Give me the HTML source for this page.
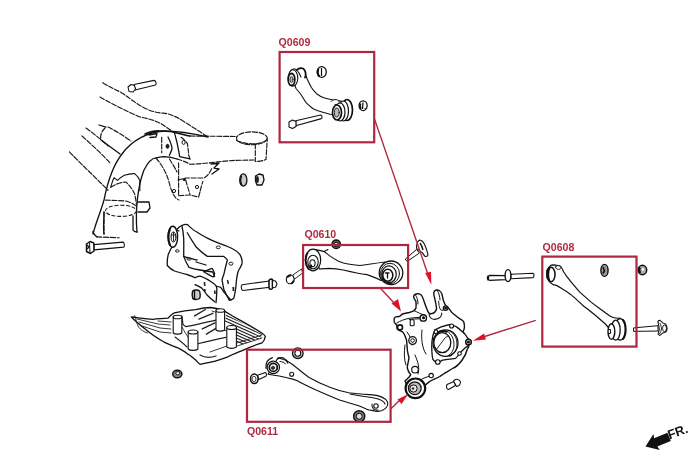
<!DOCTYPE html>
<html><head><meta charset="utf-8">
<style>
html,body{margin:0;padding:0;background:#fff;width:700px;height:467px;overflow:hidden}
svg{position:absolute;left:0;top:0;filter:blur(0.35px)}
.lbl{font-family:"Liberation Sans",sans-serif;font-weight:bold;font-size:10.6px;fill:#b02a40}
</style></head><body>
<svg width="700" height="467" viewBox="0 0 700 467">
<rect width="700" height="467" fill="#fff"/>
<!-- SUBFRAME -->
<g fill="none" stroke="#1a1a1a" stroke-width="1.15" stroke-dasharray="5 1.7" stroke-linecap="round">
<path d="M102.7,82.7 C110,87 115,89.5 120.7,92.2 C127,96 132,100.5 137.9,104.2 C143,107.5 149,110.5 155,111.9 C159,113 163,113 167,113.6 C172,115 176.5,117 180.8,119.6 C185.5,122.5 190,125.5 194.5,128.2 C198.5,131 202.5,133.5 206.5,135.9"/>
<path d="M100,97 C112,104 128,112 140,117 C150,119 158,121 166,127 L172,131"/>
<path d="M108,127 C116,131 124,136 131,141"/>
<path d="M105,128 C101,132 100,136 101,140"/>
<path d="M86,128 C94,134 102,140 108,146"/>
<path d="M82,136 C92,145 102,154 110,163"/>
<path d="M69.4,151.8 C80,163 95,177 108,190.3"/>
<path d="M190,136 L237,136.5"/>
<path d="M161.7,137.3 L161.7,152.7"/>
<path d="M177,159 C184,161 188,163 190,164.3 C205,164 220,161 235,160.4 L254,160"/>
<path d="M169.4,159 C172,163 175,168 177,172"/>
<path d="M178,180 L186,178 L204,178 C208,176 210,172 212,168"/>
<path d="M181,137.3 C185,140 187,143 187.4,143.7 C188,148 188.5,152 188.7,155.3 L190,159"/>
<path d="M185.7,180 C187,185 188.5,190 190,194.3" stroke-width="1.1"/>
<circle cx="184.3" cy="179.5" r="1" fill="#111"/>
<ellipse cx="251.9" cy="138.3" rx="15.4" ry="6.4"/>
<path d="M236.5,140.4 C242,143 249,144 255.3,143.8 C260,143.5 264,142 267,140"/>
<path d="M255.3,143.8 L255.3,161.5 C259,161.5 263,160.8 266,159.5 L267.3,138.7"/>
<path d="M156,158 C163,166 168,176 170,186 C172,192 174,198 179,200"/>
<path d="M178.6,195.7 L190,195 L198.6,197.1 C199.5,194 200,192 200,191.4 C201,188 202,184 202.9,181.4"/>
<path d="M178.6,162.9 C178.6,168 178.6,174 178.6,178.6 C178.6,184 178.6,190 178.6,195.7"/>
<path d="M110.7,187.3 C116,184 121,182 126.1,182.1 C130,186 133,190 134.7,194.1 C135.5,197.5 136,201 136.4,204.4"/>
<path d="M105.5,200.1 C112,200.3 119,200.6 126.1,201 C130,202 133.5,204 136.4,206.1"/>
<path d="M97,236.9 C104,237.2 112,237.5 119.2,237.8"/>
<path d="M104,212 C104,220 104,228 104,234"/>
</g>
<g fill="none" stroke="#111" stroke-width="1.3" stroke-linecap="round" stroke-linejoin="round">
<path d="M93,234 C96,222 100,214 104,200 C108,180 114,164 122,154 C132,140 148,132 164,131 C180,131 195,134 208,137"/>
<path d="M137,232 C135,210 138,185 144,170 C148,162 152,158 156,157.8 C160,157 162,156.6 164.3,156.6 C170,157 174,158 177,159"/>
<path d="M99,125 L106,127"/>
<path d="M110.7,187.3 C112,183 113,179 114.1,177.8 C115.5,178.5 116.5,179.5 117.5,180.4 C119.5,178.5 122,176.5 124.4,175.3 C128,174 131.5,173.5 134.7,173.6 C137.5,176 139,178 139.8,180.4 C139.8,184 139.8,187.5 139.8,190.7" stroke-width="1.1"/>
<path d="M92.7,231.8 C94,234 95.5,236 97,236.9"/>
<path d="M101,140 L120,154"/>
<path d="M145,134 C150,132 154,131 157.9,130.9 C162,131 166,131 170.7,131.5 C178,133 184,135 190,136" stroke-width="1.6"/>
<path d="M168,137 C170,141 172,145 172,149 C171,152 170,154 169.4,155.3"/>
<path d="M174.6,133.4 C175.5,136 176,139 177,142.4 C178,148 179,152 179.7,156.6 C183,157.5 187,158 190,159"/>
<path d="M149,135 L157,133.5 L156,137 L150,137.5"/>
<path d="M211,164 L219,163 L214,168 L219,169 L212,174"/>


<path d="M138,202 L149,202 L150,208 L147,212 L138,212"/>
<path d="M133,216 L133,230 C134,232 136,232 137,232"/>
<path d="M104,212 C104,222 103,228 104,234"/>
</g>
<g fill="none" stroke="#1a1a1a" stroke-width="1.1" stroke-dasharray="4 1.7">
<ellipse cx="121" cy="210.8" rx="15.5" ry="5.6"/>
</g>
<g fill="none" stroke="#111" stroke-width="1">
<ellipse cx="167.5" cy="146.3" rx="1.4" ry="2" fill="#222"/>
<ellipse cx="183.6" cy="142.4" rx="1.6" ry="2"/>
<circle cx="174" cy="191" r="1.6"/>
<circle cx="197" cy="187" r="1.6"/>
</g>

<!-- KNUCKLE SUPPORT BRACKET -->
<g fill="none" stroke="#111" stroke-width="1.3" stroke-linecap="round" stroke-linejoin="round">
<path d="M177.3,229 C179,227 180.5,226 181.9,225.5 C184,224.5 186,224.3 187.3,224.6 C190,227 193,230 196.4,231.8 C200,234 204,236.5 207.4,238.2 C212,240.5 216,242 220,243.7 C225,245.5 229,247 232.9,249 C236,250.5 238.5,252.5 240,254.6 C242,258 242.5,261 242,263.7 C241,266.5 239.5,269 238.3,271 C237.3,274 236.8,277 236.5,280 C236.2,283 236,286 235.6,289.2 C235,292.5 234.5,295.5 233.8,298.3 C232.5,299.5 231,300 229.2,300"/>
<path d="M172.7,245.5 C171,248.5 169.5,251.5 168.2,254.6 C167.4,258 167.1,262 167.3,265.5 C169.5,268 172,270 174.6,271 C179,272.5 183,273.5 187.3,274.6 C190.5,276 193,276.5 195,277.8 C196.5,276.8 198.5,276 200.1,276.1 C203,277 205.5,278.3 207.8,279.6 C209.8,280.8 211.5,282 213,283 C214.5,284 215.7,285.2 216.4,286.4 C216.8,288 216.9,289.5 216.8,290.7 C216.7,295 216.4,299 216,302.7"/>
<path d="M181.9,225.5 C182.8,230 183.4,234 183.7,238.2 C183.8,244 183.8,250 183.7,256.4 C185,260 187,264 189,267.4 C192.5,268.5 196,269.5 200,270 C204,270.8 208.5,271.5 212.8,272 C213.5,273.5 214.2,275 214.6,276.5"/>
<path d="M187.3,232.8 C190,237.5 193,242.5 196.4,247.3 C199.5,250.5 203,253.5 207.4,256.4 C212.5,256.4 218,256.4 223.8,256.4 C225.3,257.5 226.5,258.5 227.4,260 C226,265 224.8,270 223.8,274.6 C223,276.5 222.4,278.3 222,280 C222.6,283 223.2,286 223.8,289.2 C225.5,293 227.3,296.5 229.2,300"/>
<path d="M203.6,271.8 C206.5,270.5 209.5,269 212.1,268.4 C213.3,270 214.2,272 214.7,273.6 C214.3,275 213.7,276.2 213,277 C210,275.5 206.8,273.5 203.6,271.8 Z" stroke-width="1.2"/>

<path d="M196,262 L206,265"/>
<path d="M183.7,256.4 C188,258 193,259 197,260"/>
<path d="M216.4,286.4 C218,286.6 219.5,286.9 220.7,287.3 C222,289 223,290.7 224.1,292.4 C226.5,295 228.8,297.7 231,300.1"/>
<path d="M195,284.7 C197.5,285.6 199.8,286.8 201.8,288.1 C203.8,290.4 205.5,292.7 207,295 C209.5,297.5 212,299.8 214.7,301.8"/>
<path d="M179,231 C176,229 174,229 172,231"/>
</g>
<g fill="#fff" stroke="#111" stroke-linecap="round">
<ellipse cx="172.8" cy="236.8" rx="4.8" ry="10.5" stroke-width="1.4"/>
<path d="M170,229 C168,233 168,241 170,245" fill="none" stroke-width="2"/>
<ellipse cx="173.5" cy="237" rx="2.4" ry="5" stroke-width="1"/>
<path d="M171.5,235 L175.5,235 M173.5,232.5 L173.5,241" stroke-width="0.9" fill="none"/>
</g>
<g fill="none" stroke="#222" stroke-width="1">
<ellipse cx="218.3" cy="247.3" rx="2" ry="1.4"/>
<ellipse cx="231" cy="263.7" rx="2" ry="1.5"/>
<ellipse cx="177.3" cy="251" rx="1.8" ry="1.2"/>
<ellipse cx="189" cy="259" rx="2.2" ry="1.1"/>
<path d="M227.5,280 L228.4,284" stroke-width="1.5"/>
<path d="M233.3,287 L233.5,291" stroke-width="1.8"/>
<path d="M204.4,282 L204.8,286" stroke-width="1.6"/>
<path d="M204.5,289 L205.2,291.5" stroke-width="1.6"/>
<path d="M214.7,290.5 L215,294" stroke-width="1.6"/>
</g>
<!-- SKID PLATE -->
<g fill="none" stroke="#111" stroke-width="1.3" stroke-linejoin="round" stroke-linecap="round">
<path d="M131.4,317 C140,318 146,319 152.9,319.3 C158,319 163,318.5 167.9,318.2 C170,316 172,314 174.3,312.9 C182,311 190,310 195.7,309.6 C200,308.5 206,307.5 210.7,307.5 C216,308 220,309 223.6,310.7 C228,313 232,316 236.4,318.2 C245,323 254,328 262.1,333.2 C264,334.5 265,335.5 265.3,336.4 C265,339 264,341 262.1,342.9 C256,345 250,347 245,349.3 C239,352 233,354 227.9,356.8 C222,359 216,361 210.7,362.1 C206,363 203,364 200,364.3 C198,363 197,361.5 195.7,360 C192,357 190,355 187.1,353.6 C184,351 181,349.5 178.6,348.2 C173,346 168,344 163.6,341.8 C157,338 151,334 146.4,330 C140,325 135,321 131.4,317 Z"/>
</g>
<defs><clipPath id="ribR"><polygon points="226,314 262,334 261,338.5 237,346 236,328 225,322"/></clipPath>
<clipPath id="ribL"><polygon points="136,318 168,320 172,314 172,334 150,330 140,324"/></clipPath></defs>
<g fill="none" stroke="#222" stroke-width="1.1" clip-path="url(#ribR)">
<line x1="222" y1="310.5" x2="266" y2="330.3"/>
<line x1="222" y1="313.5" x2="266" y2="333.3"/>
<line x1="222" y1="316.5" x2="266" y2="336.3"/>
<line x1="222" y1="319.5" x2="266" y2="339.3"/>
<line x1="222" y1="322.5" x2="266" y2="342.3"/>
<line x1="222" y1="325.5" x2="266" y2="345.3"/>
<line x1="222" y1="328.5" x2="266" y2="348.3"/>
<line x1="222" y1="331.5" x2="266" y2="351.3"/>
<line x1="222" y1="334.5" x2="266" y2="354.3"/>
</g>
<g fill="none" stroke="#222" stroke-width="0.9" stroke-linecap="round">
<path d="M134.7,315.7 C136,320 137,324 138.5,327 C141,330 144,332 147.5,333"/>
<path d="M137,319 L158,324 L170,325"/>
<path d="M139,322 L160,328 L171,329"/>
<path d="M142,326 L160,332 L171,333"/>
<path d="M158,321 L171,322"/>
<path d="M212,311 C216,312 218,313 220,316"/>
<path d="M181.8,316 C182.5,320 182.9,323 182.9,324.5 C184,325.5 185,326.2 186.1,326.7 C196,324.5 206,322.5 216.1,320.2" stroke-width="1.2"/>
<path d="M197.9,343.8 C207,341.5 216,339.5 225.7,337.4" stroke-width="1.1"/>
<path d="M194.6,315.9 L205.4,309.5" stroke-width="1.4"/>
<path d="M198.9,319.1 L212.9,313.3" stroke-width="1.4"/>
<path d="M202.2,328.8 L215,322.9" stroke-width="1.4"/>
<path d="M206.4,334.2 L217.2,327.7" stroke-width="1.4"/>
<path d="M175,337 C179,340 183,343 187,347" stroke-width="1.1"/>
<path d="M182,327 C184,331 186,334 188,337"/>
<path d="M200,355 C205,358 210,358 216,356" stroke-width="1.3"/>
<path d="M210,352 L227,346"/>
<path d="M237,346 L262,338"/>
<path d="M237,343 L262,335"/>
<path d="M224,330 L227,331"/>
</g>

<g fill="#fff" stroke="#111" stroke-width="1.1">
<path d="M173.2,317 L173.2,333 C175,334.5 180,334.5 181.8,333 L181.8,317 Z"/>
<ellipse cx="177.5" cy="317" rx="4.3" ry="1.8"/>
<path d="M216,310.5 L216,330 C218,331.5 222.5,331.5 224.6,330 L224.6,310.5 Z"/>
<ellipse cx="220.3" cy="310.5" rx="4.3" ry="1.8"/>
<path d="M188.2,332 L188.2,349 C190,350.8 196,350.8 197.9,349 L197.9,332 Z"/>
<ellipse cx="193" cy="332" rx="4.8" ry="2"/>
<path d="M226.8,327.5 L226.8,347 C229,348.8 234,348.8 236.4,347 L236.4,327.5 Z"/>
<ellipse cx="231.6" cy="327.5" rx="4.8" ry="2"/>
</g>

<!-- BOLTS & NUTS -->
<g fill="#fff" stroke="#111" stroke-width="1.1" stroke-linejoin="round">
<!-- bolt top-left -->
<path d="M134,84.5 L154,80.4 C156.2,80.4 156.6,84.4 155.6,85 L135,90 Z"/>
<path d="M128,87 L131,84.5 L134.5,85.5 L135.5,89 L133,92 L129,91.5 Z"/>
<!-- bolt bottom-left -->
<path d="M93.9,244.6 L122.9,242.1 C124.5,242.3 124.8,246.8 123.6,247.1 L93.9,249.9 Z"/>
<path d="M86.5,244 L90,241.5 L93.8,243 L94,251 L90.5,253.5 L86.5,251.5 Z" stroke-width="1.5"/><path d="M89.5,242.5 L90,253" fill="none" stroke-width="1"/><path d="M87,245 L89,247 L87,249" fill="none" stroke-width="1.2"/>
<!-- nuts near frame -->
<ellipse cx="243.3" cy="180" rx="3.6" ry="6.2" fill="#ccc" stroke-width="1.3"/><path d="M241.5,176 C240.5,179 240.5,183 242,185" stroke="#111" stroke-width="1.4" fill="none"/>
<path d="M255.5,176 L259,174 L263,175 L264,180 L262,185 L257,185 L255.5,181 Z" fill="#eee" stroke-width="1.3"/><ellipse cx="257.3" cy="179.5" rx="1.6" ry="3.6" fill="#222" stroke="none"/>
<!-- support bolt -->
<path d="M242.2,284.7 L269.5,281 L270,287.2 L243,290.5 C241,290 240.8,285.5 242.2,284.7 Z"/>
<path d="M269,280.5 C269.5,279 271,278.8 272.5,279.5 L272.5,288.5 C271,289.8 269.5,289.5 269,288 Z" stroke-width="1.6"/><path d="M272.5,280.5 L275.5,281 L277,284 L275.5,287.3 L272.5,287.5 Z" stroke-width="1.1"/>
<path d="M192.5,291.5 C193.5,290 197,289.5 199,290.5 C200.5,292 200.5,297 199.5,298.5 C197.5,299.8 194,299.8 192.8,298.5 C192,296 192,293.5 192.5,291.5 Z" fill="#ccc" stroke-width="1.4"/><path d="M194.5,291 L194.5,299" fill="none" stroke-width="1.4"/>
<ellipse cx="177.3" cy="374" rx="4.6" ry="3.8" fill="#888" stroke-width="1.4"/><ellipse cx="177.8" cy="373.2" rx="2" ry="1.6" fill="#eee" stroke-width="0.9"/>
<!-- Q0610 nut -->
<circle cx="336.2" cy="244.3" r="4.3" fill="#555" stroke-width="1.3"/><circle cx="336.2" cy="244.5" r="2.2" fill="#ddd" stroke-width="1"/>
<!-- Q0610 left bolt -->
<path d="M292.9,274.9 L301.6,268.9 L302.5,273.1 L294.1,279.4 Z" stroke-width="0.9"/>
<ellipse cx="290.2" cy="279.4" rx="3.9" ry="4.4" stroke-width="1.1"/><path d="M287,277.5 C288,276 289.5,275.3 291,275.3" fill="none" stroke-width="2"/><path d="M293.8,280.5 C293.2,282 292.2,283.2 291,283.6" fill="none" stroke-width="2"/>
<!-- Q0610 stud upper right -->
<path d="M405.3,259.1 L416.5,249.5 L419.5,253 L407,261.5 Z" stroke-width="1"/>
<path d="M417.7,242 C418.5,240.5 420,240 420.7,240.3 C422.5,241 423.5,242.5 424.2,243.8 C425.5,246.5 426.5,249 427.1,251.5 C427.8,253 428,254.5 427.7,255.6 C426.8,256.5 425.5,256.5 424.8,256.2 C423.8,255 423,253.5 422.4,252.7 C421,251.8 420,251 418.9,250.3 C417.5,249.5 416.8,248.5 416.5,248 C416.5,246 417,243.5 417.7,242 Z" stroke-width="1.1"/><path d="M420,243 C421.5,245 422.5,248 423,250" fill="none" stroke-width="1.4"/>
<!-- Q0608 left bolt -->
<path d="M489.5,275.3 L505.6,275.6 L505.6,279.6 L489.5,280.4 C487.5,280 487.5,275.8 489.5,275.3 Z" stroke-width="1.2"/>
<path d="M488.5,276 C487.8,277 487.8,279 488.5,280" fill="none" stroke-width="2.2"/>
<path d="M510.8,274.3 L533,273.3 C534.3,273.6 534.3,277.2 533,277.6 L510.8,278.8 Z"/>
<ellipse cx="508" cy="275.6" rx="2.9" ry="6" stroke-width="1.4"/>
<!-- nuts Q0608 -->
<ellipse cx="604.5" cy="270.4" rx="3.6" ry="6" fill="#999" stroke-width="1.4"/><path d="M603,267 L604.5,271 L602.8,273.5" fill="none" stroke-width="1.6"/>
<ellipse cx="642.4" cy="270" rx="4.3" ry="4.7" fill="#aaa" stroke-width="1.5"/><path d="M640,267.5 C639.3,269 639.3,271.5 640.3,273" fill="none" stroke-width="1.8"/><circle cx="643" cy="269.5" r="1.3" fill="#fff" stroke="none"/>
<!-- Q0608 right bolt -->
<path d="M633.6,327.9 L658,325.7 L658,331 L633.6,331.4 Z" stroke-width="1"/>
<path d="M657.9,321.4 C658.5,320.6 659.3,320.3 660,320.4 C661,321 662,322 662.9,322.9 C663.8,323.5 664.8,323.9 665.7,324.3 C666.6,325.5 667.1,327 667.1,328.6 C667,330 666.5,331.3 665.7,332.1 C664.8,332.4 663.8,332.6 662.9,332.9 C662,333.8 661,334.8 660,335.4 C659.2,335.2 658.6,334.7 658.2,334 C658.4,332.5 658.9,330.8 659.3,329.3 C659,326.5 658.4,323.8 657.9,321.4 Z" stroke-width="1.1"/>
<path d="M660,323 C661,325.5 661.5,327.5 661.5,329 C661,331 660.5,332.5 659.5,334" fill="none" stroke-width="0.9"/>
<ellipse cx="664.5" cy="328.3" rx="2" ry="3.3" fill="none" stroke-width="0.9"/>
<!-- knuckle bolt -->
<path d="M447,384.5 L454,381.5 L455.5,385.5 L448.5,389.5 C446.5,389.5 446,386 447,384.5 Z"/>
<path d="M453.5,381 C455,378.5 459,378.5 460.3,381.5 C461,384 459,386.5 456.5,386.5 Z"/>
<!-- Q0609 nuts and bolt -->
<ellipse cx="321.8" cy="72" rx="4.5" ry="5.4" stroke-width="1.3"/><path d="M318.3,69 C317.5,71 317.7,74.5 319.3,76.5" fill="none" stroke-width="2.2"/><path d="M321.5,68 L321.5,76" fill="none" stroke-width="1.2"/>
<ellipse cx="363.1" cy="105.7" rx="4" ry="4.9" stroke-width="1.3"/><path d="M360.5,103.5 C359.8,105 360,107.5 361,109" fill="none" stroke-width="1.8"/><path d="M363,102.5 L362.5,109 M364.5,108.5 L366,109" fill="none" stroke-width="1.3"/>
<path d="M295.7,120.7 L320.7,115 C322.2,115.3 322.5,118.2 321.4,118.6 L295.7,125.7 Z"/>
<path d="M289,122 L292.5,120 L296,121.5 L296,126.5 L292.5,128.5 L289,127 Z"/>
<!-- Q0611 nuts & bolt -->
<circle cx="297.8" cy="353.2" r="5.3" fill="#ccc" stroke-width="1.3"/><circle cx="297.8" cy="353.2" r="3" fill="#fff" stroke-width="1.1"/>
<path d="M257.5,375.2 L265.4,372.5 C266.5,373 266.8,375.5 265.8,376.2 L258.7,379.6 Z"/>
<ellipse cx="254.3" cy="378.8" rx="3.8" ry="4.8" stroke-width="1.5"/><ellipse cx="254" cy="379" rx="2" ry="2.8" stroke-width="0.8"/>
<circle cx="359.2" cy="416.3" r="5.6" fill="#777" stroke-width="1.4"/><circle cx="359.2" cy="416.3" r="3" fill="#ddd" stroke-width="1"/>
</g>
<g fill="none" stroke="#222" stroke-width="0.8">

</g>

<!-- Q0609 ARM -->
<g fill="#fff" stroke="#111" stroke-width="1.1" stroke-linejoin="round" stroke-linecap="round">
<path d="M290,72 C291,69 295,68 297,70 C299,68 302,67.5 304,70 C304.5,71 304.2,72 304.2,73.1 C305.5,75 306.5,77 307.3,79.3 C308.5,82 310,85 311.4,87.5 C313,90 314.8,92 316.6,93.7 C319,95.5 321.5,97 323.8,97.8 C326.5,98.7 329.3,99.3 332,99.8 C334.5,100.3 337,100.7 339.2,100.9 L345,102 L340,116 C336.5,115 333,114.5 330,114.2 C327.5,113.5 325,112.8 322.7,112.2 C319.5,111.3 316.5,110.3 313.5,109.1 C311,107 308.5,105 306.3,102.9 C304.5,100.2 302.8,97.5 301.1,94.7 C299.5,92.5 297.8,90.5 296,88.5 Z"/>
<path d="M297,70 C299,72 300,75 301,77"/>
<path d="M331,101.5 C333,99 337,99 339,101 C340,103 338,105 335,104.5" stroke-width="1"/>
<ellipse cx="347" cy="110" rx="5.5" ry="10.5" stroke-width="1.7"/>
<ellipse cx="343.5" cy="111" rx="5" ry="10" stroke-width="1.2"/>
<ellipse cx="340" cy="112" rx="5" ry="9" stroke-width="1.2"/>
<ellipse cx="337" cy="112.5" rx="4.5" ry="7.5" stroke-width="1.7"/>
<ellipse cx="336.8" cy="112.5" rx="2.4" ry="4.5" fill="#bbb" stroke-width="0.9"/>
<path d="M297,70 C299,67.5 303,67.5 304.5,70 C306,72 306,76 305,77.5" stroke-width="1.8"/>
<ellipse cx="293" cy="78" rx="4.8" ry="8.2" stroke-width="1.1"/>
<ellipse cx="291.5" cy="79.5" rx="3.3" ry="6" stroke-width="1.8"/>
<ellipse cx="291.5" cy="79.5" rx="1.5" ry="3.2" fill="#bbb" stroke-width="0.8"/>
</g>
<!-- Q0610 ARM -->
<g fill="#fff" stroke="#111" stroke-width="1.1" stroke-linejoin="round" stroke-linecap="round">
<path d="M314.5,249.6 C318,250 322,250.5 324,251.6 C326,253 327.5,254 329,255.4 C332,257.5 335,259.5 338.5,261.2 C341.5,262.5 344.5,263.5 348,264 C352,264.8 356,265.2 360,265.5 C366,265 373,263.5 385,262 L392,272 L381,280.5 C376,278 372,276 367,274.6 C362,274 356,273 343.4,270 C338,269 333,268.5 329,268.4 C325,268.5 322,268.8 319.3,269 Z"/>
<path d="M324,251.6 L328,249.5"/>
<ellipse cx="313" cy="260" rx="7.7" ry="10.8" stroke-width="1.2"/>
<path d="M307.5,253 C305,257 305,265 308.5,269" fill="none" stroke-width="1.8"/>
<ellipse cx="313" cy="262" rx="5.2" ry="6.8" stroke-width="1.1"/>
<ellipse cx="312.5" cy="263.2" rx="2.6" ry="3.4" stroke-width="1.1"/>
<path d="M309,266.5 L311.5,265 L311,268 Z" fill="#111"/>
<ellipse cx="391" cy="272.8" rx="11.8" ry="11.8" stroke-width="1.3"/>
<ellipse cx="390" cy="273.5" rx="9.5" ry="10.2" stroke-width="1"/>
<ellipse cx="389" cy="274.3" rx="7.3" ry="8.4" stroke-width="1.2"/>
<ellipse cx="387.8" cy="275.3" rx="5" ry="6" stroke-width="1.5"/>
<path d="M385.5,273 L389,273 M387.5,273 L387.5,278" stroke-width="1.3" fill="none"/>
</g>
<!-- Q0608 ARM -->
<g fill="#fff" stroke="#111" stroke-width="1.1" stroke-linejoin="round" stroke-linecap="round">
<path d="M547.2,269.7 C548,268 549,267 549.5,266.7 C550.5,265.5 551.5,265 552.5,264.9 C554,264.9 555,265 556.2,265.2 C557,265.3 558.2,265.4 559.2,265.6 C560.3,266 561,266.7 561.5,267.5 C562.5,269 563,270.5 563.7,272 C564.8,273.5 565.8,275 566.7,276.4 C568.5,278.6 570.2,280.8 571.9,282.9 C574.5,286 577,289 579.6,291.9 C583.5,295.5 587.3,298.8 591.1,302.1 C594.5,304.8 598,307.3 601.4,309.8 C604.5,312 607.5,314.3 610.4,316.3 C613,318 616,318.5 620,318.2 L617,334 L610.4,330 C609,328 607,326 605.3,324 C602,321 598.5,318 595,315 C590.5,311.5 586.3,308 582.1,304.7 C578.5,301.5 574.5,297.5 570.6,294.4 C568,292.5 565.5,290.8 562.9,289.3 C560.5,287.8 558.5,286.5 556.4,285.4 C555.5,285.2 554.5,285 553.2,284.7 C551.5,283.7 550.3,282.7 549.5,281.7 C547,278 546.5,273 547.2,269.7 Z" stroke-width="1.2"/>
<path d="M555.5,267 C556,265.5 559,265 560.5,266.5 C561.5,268 560.5,269.4 558.5,269.4 C557,269.4 555.8,268.5 555.5,267 Z" stroke-width="1"/>
<ellipse cx="551" cy="274.5" rx="4" ry="7.2" stroke-width="1.5"/>
<path d="M549.3,268.5 C547.8,271 547.8,278 549.3,280.5" fill="none" stroke-width="2"/>
<path d="M546.4,271 L548.5,271 L548.5,273 L546.4,273 M546.4,276 L548.5,276 L548.5,278 L546.4,278" fill="none" stroke-width="1"/>
<ellipse cx="620.1" cy="329.4" rx="5.4" ry="10.7" stroke-width="1.3"/>
<path d="M623,320 C626.5,324 626.5,335 623,339" fill="none" stroke-width="2"/>
<ellipse cx="615.7" cy="330.2" rx="4.5" ry="10" stroke-width="1.3"/>
<ellipse cx="611.4" cy="331.5" rx="3.4" ry="7.7" stroke-width="1.4"/>
<path d="M608.3,329.5 L610.5,329.5 L610.5,333.5 L608.3,333.5" fill="none" stroke-width="1"/>
</g>
<!-- Q0611 ARM -->
<g fill="#fff" stroke="#111" stroke-width="1.1" stroke-linejoin="round" stroke-linecap="round">
<path d="M278,357.8 C282,359 285.5,360 287.8,361.4 C291,363.5 293.5,365 296,367.3 C300,370.5 304.5,374 308.7,377.3 C315,381 322,384.5 330.5,387.4 C336,389.5 342,391.5 348.8,392.8 C355,393.8 362,394.3 370,394.6 C377,395 385,397 387.5,402 C389,407 383,411.5 377.9,411.4 C373,411 370,409.5 368.8,410 C365,408.5 362,407 358,405.5 C352,403.5 346,402 339.6,400 C331,396.5 323,393 316,390 C309.5,387 303,384 297.8,381 C295,379.8 293,379 290.4,378.6 C286,377.5 282,376.8 279.3,376 C275.5,375.3 271.5,374.8 268.1,374.3 Z"/>
<path d="M350,394 C360,396 368,397 374,398 C380,399 384,401 385,404" fill="none"/>
<path d="M372,404 C371.5,409 375,410.5 378,410" fill="none"/>
<circle cx="376" cy="406" r="2.2"/>
<circle cx="291.7" cy="374.3" r="2"/>
<path d="M277.6,358.9 C279.5,357.5 281,357.3 283,357.8 C285.5,359 287,360.5 287.8,363.1" fill="none" stroke-width="1.2"/>
<path d="M280,361.5 C282.5,361.5 284.5,362.5 285.5,364" fill="none" stroke-width="1"/>
<circle cx="273.3" cy="367.4" r="6.2" stroke-width="1.2"/>
<circle cx="273.3" cy="367.4" r="4" stroke-width="1.8"/>
<circle cx="273" cy="367.8" r="1.6" fill="#444" stroke-width="0.8"/>
<path d="M266,368.3 C265.5,363 268,359 272.4,357.6" fill="none" stroke-width="1.3"/>
</g>


<!-- KNUCKLE -->
<g fill="#fff" stroke="#111" stroke-width="1.4" stroke-linejoin="round" stroke-linecap="round">
<path d="M394.3,318.3 C394.8,317.5 395.3,317 395.8,316.9 C397,316.5 398.5,316.5 399.6,316.4 C400.5,315.5 401.5,314.5 402.5,314 C404.5,313.3 407,312.8 409.3,312.5 C411,312 412.8,311.3 414.1,310.6 C415,309.8 415.7,308.8 416,307.7 C416.2,306 416.2,303 415.8,301 C413,298 413,295 415,294.3 C418,293 421,294 422,296 C424,300 425,305 427.3,310 C428,313 430,314 431,313.7 C434,313.5 436,311 436.6,308.7 C436,302 434,296 433.8,294.3 C433.5,291 435,290 437,290 C440,290 442,293 442.4,295.8 C443,299 443.5,301 443.8,301.5 C445,305 447,307 448,307.3 C450,310 451,312 452.4,313 C455,315 457,317 459.6,318.7 C462,320 464,322 464,323 C465,327 464,330 463,331.6 L467,338 C470,341 470,345 467,350 C466,355 460,365 453.5,368 C447,372 443,374 439.8,376.5 C435,379 432,380 429.5,381.6 C426,384 424,386 422.7,388.5 L410,392 L405,381 C407,379 410,377 410.7,374.8 C409,373 408,371 407.3,368 C407,366 408.5,362 409,357.7 C409,357 408,355 407.3,350 C407.3,347 407,345 406.5,340 C406,338.5 405.3,336.5 404.5,334.7 C403.8,333.5 403.2,332.5 402.5,331.8 C400.5,331 398.5,330.2 397.2,328.9 C397,327.5 396.9,326 396.7,325 C395.8,324 394.8,323.2 394.3,322.2 C394,321 394,319.5 394.3,318.3 Z"/>
</g>
<g fill="none" stroke="#111" stroke-width="1" stroke-linecap="round" stroke-linejoin="round">
<path d="M415,294.3 C417,297 418,300 418,304"/>
<path d="M437,290 C439,293 440,297 440,300"/>
<path d="M429,314.3 C429.5,316 430,317.5 430.9,318.1 C432,319 433.5,319.4 434.8,319.4 C437,319 439.5,318 440.6,316.8 C441.5,315.5 441.8,314 441.8,313" stroke-width="1.1"/>
<path d="M438.6,301.4 C438.8,303.5 439,305 439.3,306.6 C439.7,308 440,309 440.6,309.8 C441.5,310.3 442.3,310.4 443.1,310.4"/>
<path d="M414.1,310.6 C418,312.5 421,314 424,315"/>
<path d="M396.7,323.1 C400,321 405,319 409.3,318.3 C413,317.8 417,317.5 420,317.3"/>
<path d="M409.3,319.5 C413,319 416,318.8 419.5,318.8"/>
<path d="M407,332 C410,336 412,340 412,345"/>
<path d="M415,355 C418,362 420,368 418,374"/>
<path d="M405,345 C404,352 404,360 406,365"/>
<path d="M420,380 C424,378 428,376 432,376"/>
<path d="M422,330 C421,338 422,348 426,354"/>
</g>
<g fill="#fff" stroke="#111" stroke-width="1.1">
<path d="M434.9,329.9 C439,327.5 443.5,325.8 447.7,325 C450,324.5 452,324.7 453.5,325.5 C454.5,326 455.5,326.5 456.5,326.9 C458.5,328.2 460.5,330 462.4,331.8 C464.5,333.5 466.2,335.5 467.4,337.7 C469,339.5 470,341.5 469.8,343.5 C469,345.5 467,346.8 465.4,347.6 C464,349 462.7,350.3 461.5,351.5 C460.5,352.3 459.8,353 459.5,353.5 C458.3,355.5 457,357 455.6,358.4 C453,359 450.5,359.2 447.7,359.4 C445.7,359.7 443.7,360 441.8,360.4 C440.5,361.5 439.2,362.5 437.8,362.6 C435.5,362.3 433.8,361 432.9,359.4 C432.2,356.8 432,354 431.9,351.5 C431.7,348 431.7,345 431.9,341.7 C432.3,337.5 433.2,333.5 434.9,329.9 Z" stroke-width="1.3"/>
<ellipse cx="445.5" cy="343.1" rx="12.5" ry="13.3" stroke-width="1.2"/>
<path d="M449,330.5 C454,333 457,338 457,344 C457,350 454,354.5 449.5,356.5" fill="none" stroke-width="1"/>
<path d="M447,331 C451.5,334 454,339 454,344.5 C454,350 451.5,354 447.5,356" fill="none" stroke-width="1"/>
<ellipse cx="442.3" cy="342.7" rx="8.5" ry="10" stroke-width="1.3"/>
<path d="M437,333 C440,331 444,330.5 447.5,332" fill="none" stroke-width="2"/>
<path d="M436,350 L445,338 C446,337 447,336.5 448,336.5" fill="none" stroke-width="0.9"/>
<circle cx="435.9" cy="331.8" r="1.8"/>
<circle cx="459.5" cy="353.5" r="1.8"/>
<circle cx="468.5" cy="342" r="2.8" stroke-width="1.5"/><circle cx="468.5" cy="342" r="1" fill="#222"/>
<circle cx="437.8" cy="362" r="2.3"/>
<circle cx="451.6" cy="326" r="2"/>
<circle cx="412.6" cy="340.5" r="3.8" stroke-width="1.3"/><circle cx="412.6" cy="340.5" r="1.8" stroke-width="1"/>
<circle cx="415" cy="369.7" r="3.3"/>
<circle cx="431.2" cy="375.6" r="2.2"/>
<circle cx="400" cy="327.4" r="2.5" stroke-width="1.6"/>
<circle cx="423.3" cy="317.9" r="3.2" stroke-width="1.4"/><circle cx="423.5" cy="317.8" r="1" fill="#111"/>
<circle cx="445.6" cy="308.1" r="2.3" stroke-width="1.3"/><circle cx="445.6" cy="308.1" r="0.9" fill="#111"/>
<rect x="410.2" y="319.8" width="3.9" height="6" rx="1"/>
</g>
<g fill="#fff" stroke="#111">
<circle cx="415.4" cy="388.3" r="9.8" stroke-width="2.2"/>
<circle cx="414.8" cy="388.3" r="6.4" stroke-width="1.2" fill="#bbb"/>
<circle cx="413.5" cy="388.5" r="3.6" stroke-width="1" fill="#eee"/>
<circle cx="413" cy="388.5" r="1.3" stroke="none" fill="#333"/>
</g>

<!-- red boxes -->
<g fill="none" stroke="#ae2640" stroke-width="2.2">
<rect x="279.6" y="52" width="94.6" height="90.3"/>
<rect x="303.1" y="245" width="105" height="43"/>
<rect x="542.3" y="256.6" width="94.2" height="90"/>
<rect x="247" y="349.7" width="143.6" height="72.1"/>
</g>
<g class="lbl">
<text x="278.6" y="45.8">Q0609</text>
<text x="304.4" y="237.8">Q0610</text>
<text x="542.6" y="251.2">Q0608</text>
<text x="246.9" y="435.3">Q0611</text>
</g>
<g stroke="#b02a44" stroke-width="1.4" fill="none">
<line x1="374.5" y1="119" x2="428.5" y2="276"/>
<line x1="380.2" y1="288" x2="396" y2="305"/>
<line x1="535.8" y1="320.3" x2="480" y2="338"/>
<line x1="390.9" y1="408.8" x2="402" y2="398"/>
</g>
<g fill="#e0102a">
<polygon points="431.4,284.7 425.2,273.1 431,271.8"/>
<polygon points="401,311.6 391.5,303.5 398,299"/>
<polygon points="472.9,340.8 484,333.5 486,339.5"/>
<polygon points="408.3,394 397.5,399.5 401.5,404"/>
</g>
<!-- FR arrow -->
<g transform="translate(645.5,446.5) rotate(-22)">
<polygon points="0,0 12,-8.5 11,-4.4 25.5,-4.4 25.5,4.4 11,4.4 12,8.5" fill="#111"/>
</g>
<text x="0" y="0" transform="matrix(0.934,-0.358,0.326,0.946,669.5,439.5)" font-family="Liberation Sans, sans-serif" font-weight="bold" font-size="12.8" fill="#111">FR.</text>

</svg>
</body></html>
